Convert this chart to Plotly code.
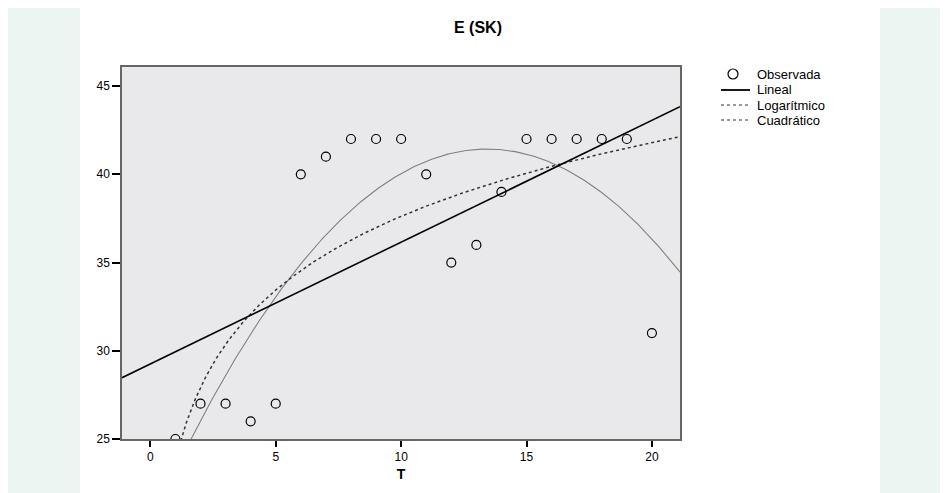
import numpy as np
import plotly.graph_objects as go

# ---- data ----
t_values = [1, 2, 3, 4, 5, 6, 7, 8, 9, 10, 11, 12, 13, 14, 15, 16, 17, 18, 19, 20]
e_observed = [25, 27, 27, 26, 27, 40, 41, 42, 42, 42, 40, 35, 36, 39, 42, 42, 42, 42, 42, 31]
x_ticks = [0, 5, 10, 15, 20]
y_ticks = [25, 30, 35, 40, 45]
legend_labels = ["Observada", "Lineal", "Logarítmico", "Cuadrático"]

x = np.array(t_values, dtype=float)
y = np.array(e_observed, dtype=float)

# curve fits (regressions of the observed data)
lin = np.polyfit(x, y, 1)
quad = np.polyfit(x, y, 2)
logc = np.polyfit(np.log(x), y, 1)

X_MIN, X_MAX = -1.13, 21.12
Y_MIN, Y_MAX = 25, 46.08

xs = np.linspace(X_MIN, X_MAX, 400)
xs_log = np.linspace(0.5, X_MAX, 600)

fig = go.Figure()
fig.add_trace(go.Scatter(x=xs, y=np.polyval(quad, xs), mode="lines",
                         line=dict(color="#808080", width=1.1), showlegend=False))
fig.add_trace(go.Scatter(x=xs_log, y=np.polyval(logc, np.log(xs_log)), mode="lines",
                         line=dict(color="#333333", width=1.5, dash="dot"), showlegend=False))
fig.add_trace(go.Scatter(x=xs, y=np.polyval(lin, xs), mode="lines",
                         line=dict(color="#000000", width=1.6), showlegend=False))
fig.add_trace(go.Scatter(x=x, y=y, mode="markers",
                         marker=dict(symbol="circle-open", size=9,
                                     line=dict(color="#000000", width=1.2), color="#000000"),
                         showlegend=False, cliponaxis=True))

OFF = 8  # page body margin
W, H = 948 - OFF, 493 - OFF
L, R, T, B = 122 - OFF, 680 - OFF, 67 - OFF, 439 - OFF
pw, ph = R - L, B - T

def px(xp):
    return (xp - OFF - L) / pw

def py(yp):
    return (B - (yp - OFF)) / ph

FONT = "Liberation Sans, Arial"
shapes = []
green = "#edf5f2"
shapes.append(dict(type="rect", xref="paper", yref="paper", x0=px(5), x1=px(80), y0=py(493), y1=py(3),
                   fillcolor=green, line=dict(width=0), layer="below"))
shapes.append(dict(type="rect", xref="paper", yref="paper", x0=px(880), x1=px(948), y0=py(493), y1=py(3),
                   fillcolor=green, line=dict(width=0), layer="below"))

# manual legend
leg_y = [74, 90, 105, 120]
shapes.append(dict(type="circle", xref="paper", yref="paper", x0=px(728), x1=px(738),
                   y0=py(leg_y[0] + 5), y1=py(leg_y[0] - 5), line=dict(color="#000", width=1.2)))
shapes.append(dict(type="line", xref="paper", yref="paper", x0=px(721), x1=px(750),
                   y0=py(leg_y[1]), y1=py(leg_y[1]), line=dict(color="#000", width=1.8)))
shapes.append(dict(type="line", xref="paper", yref="paper", x0=px(721), x1=px(750),
                   y0=py(leg_y[2]), y1=py(leg_y[2]), line=dict(color="#333", width=1, dash="dot")))
shapes.append(dict(type="line", xref="paper", yref="paper", x0=px(721), x1=px(750),
                   y0=py(leg_y[3]), y1=py(leg_y[3]), line=dict(color="#333", width=1, dash="dot")))

annotations = []
for lab, yy in zip(legend_labels, leg_y):
    annotations.append(dict(text=lab, xref="paper", yref="paper", x=px(755), y=py(yy),
                            xanchor="left", yanchor="middle", showarrow=False,
                            font=dict(family=FONT, size=13, color="#000")))

annotations.append(dict(text="<b>E (SK)</b>", xref="paper", yref="paper", x=px(478), y=py(27),
                        xanchor="center", yanchor="middle", showarrow=False,
                        font=dict(family=FONT, size=16, color="#000")))

fig.update_layout(
    width=W, height=H,
    margin=dict(l=L, r=W - R, t=T, b=H - B, pad=0),
    paper_bgcolor="white",
    plot_bgcolor="#e9e9eb",
    showlegend=False,
    shapes=shapes,
    annotations=annotations,
    font=dict(family=FONT, size=12, color="#000"),
)
fig.update_xaxes(range=[X_MIN, X_MAX], tickvals=x_ticks, ticks="outside", ticklen=6,
                 tickcolor="#000", tickwidth=1.5, showgrid=False, zeroline=False,
                 showline=True, linecolor="#666", linewidth=1.5, mirror=True,
                 title=dict(text="<b>T</b>", font=dict(family=FONT, size=14), standoff=6),
                 tickfont=dict(family=FONT, size=12, color="#000"))
fig.update_yaxes(range=[Y_MIN, Y_MAX], tickvals=y_ticks, ticks="outside", ticklen=8,
                 tickcolor="#000", tickwidth=1.5, showgrid=False, zeroline=False,
                 showline=True, linecolor="#666", linewidth=1.5, mirror=True,
                 tickfont=dict(family=FONT, size=12, color="#000"))

fig.write_html("out.html")
